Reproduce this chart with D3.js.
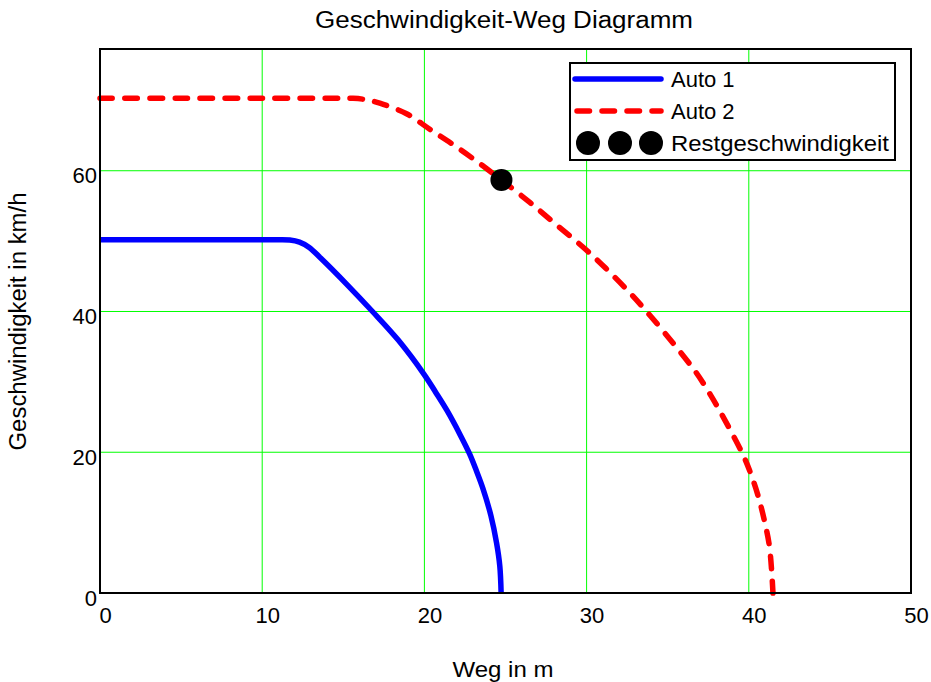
<!DOCTYPE html>
<html>
<head>
<meta charset="utf-8">
<script src="https://cdn.jsdelivr.net/npm/d3@7"></script>
<style>
    body { margin: 0; background: #fff; }
    text { font-family: "Liberation Sans", Arial, sans-serif; fill: #000; }
</style>
</head>
<body>
<div class="my_div"></div>
<script>
// Weg in m / Geschwindigkeit in km/h
var auto1Weg = [0, 4, 8, 11.0, 11.7, 12.3, 12.9, 13.6, 15.2, 16.8, 18.4, 20.0, 20.7, 21.4, 22.2, 22.8, 23.2, 23.6, 24.1, 24.45, 24.65, 24.73];
var auto1V   = [50.2, 50.2, 50.2, 50.2, 50.15, 49.85, 49.1, 47.6, 43.9, 40.0, 35.9, 31.0, 28.5, 25.9, 22.5, 19.7, 17.4, 14.9, 11.0, 7.1, 3.8, 0];

var auto2Weg = [0, 5, 10, 14.5, 15.6, 16.4, 17.25, 18.9, 20.33, 21.97, 23.6, 24.75, 26.5, 28.1, 30.0, 31.2, 32.65,
                33.7, 35.3, 36.76, 37.6, 38.4, 39.63, 40.05, 40.56, 40.97, 41.28, 41.49];
var auto2V   = [70.3, 70.3, 70.3, 70.3, 70.3, 70.1, 69.6, 68.1, 65.9, 63.4, 60.7, 58.7, 55.5, 52.4, 48.7, 46.1, 42.7,
                40.0, 35.6, 31.3, 28.3, 25.1, 19.7, 17.4, 13.9, 10.2, 6.5, 0];

// Restgeschwindigkeit von Auto 2 an der Stelle, an der Auto 1 steht
var restWeg = [24.75];
var restV   = [58.7];

var xTicks = [0, 10, 20, 30, 40, 50];
var yTicks = [0, 20, 40, 60];
var legendLabels = ["Auto 1", "Auto 2", "Restgeschwindigkeit"];

var xMax = 50,
    yMax = 77.3;

// Size and padding for the chart
var W = 931, H = 682;
var margin = { top: 49, right: 20, bottom: 89, left: 100 };
var width = 811,
    height = 544;

var xScale = d3.scaleLinear().domain([0, xMax]).range([0, width]);
var yScale = d3.scaleLinear().domain([0, yMax]).range([height, 0]);

var svg = d3.select(".my_div")
    .append("svg")
    .attr("width", W)
    .attr("height", H);

var g = svg.append("g")
    .attr("transform", "translate(" + margin.left + "," + margin.top + ")");

// Green grid lines
g.append("g")
    .selectAll("line")
    .data(xTicks.filter((d) => { return d > 0 && d < xMax; }))
    .enter().append("line")
    .attr("x1", (d) => { return xScale(d); })
    .attr("x2", (d) => { return xScale(d); })
    .attr("y1", 0)
    .attr("y2", height)
    .attr("stroke", "#00ff00")
    .attr("stroke-width", 1);

g.append("g")
    .selectAll("line")
    .data(yTicks.filter((d) => { return d > 0; }))
    .enter().append("line")
    .attr("y1", (d) => { return yScale(d); })
    .attr("y2", (d) => { return yScale(d); })
    .attr("x1", 0)
    .attr("x2", width)
    .attr("stroke", "#00ff00")
    .attr("stroke-width", 1);

// Axes, labels only
var xAxis = g.append("g")
    .attr("transform", "translate(0," + height + ")")
    .call(d3.axisBottom(xScale).tickValues(xTicks).tickSize(0).tickPadding(14));
xAxis.select(".domain").remove();
xAxis.selectAll("text")
    .attr("font-size", 22)
    .attr("dx", 5)
    .attr("font-family", null);

var yAxis = g.append("g")
    .call(d3.axisLeft(yScale).tickValues(yTicks).tickSize(0).tickPadding(3));
yAxis.select(".domain").remove();
yAxis.selectAll("text")
    .attr("font-size", 22)
    .attr("dy", 12)
    .attr("font-family", null);

// Centripetal Catmull-Rom keeps the steep ends smooth
var line = d3.line()
    .x((d) => { return xScale(d[0]); })
    .y((d) => { return yScale(d[1]); })
    .curve(d3.curveCatmullRom.alpha(0.5));

var auto1 = d3.zip(auto1Weg, auto1V);
var auto2 = d3.zip(auto2Weg, auto2V);

g.append("path")
    .datum(auto1)
    .attr("d", line)
    .attr("fill", "none")
    .attr("stroke", "#0000ff")
    .attr("stroke-width", 5.5);

g.append("path")
    .datum(auto2)
    .attr("d", line)
    .attr("fill", "none")
    .attr("stroke", "#ff0000")
    .attr("stroke-width", 5.5)
    .attr("stroke-linecap", "round")
    .attr("stroke-dasharray", "12.5,12.5");

// Plot frame
g.append("rect")
    .attr("width", width)
    .attr("height", height)
    .attr("fill", "none")
    .attr("stroke", "#000")
    .attr("stroke-width", 2);

g.selectAll("circle.rest")
    .data(d3.zip(restWeg, restV))
    .enter().append("circle")
    .attr("class", "rest")
    .attr("cx", (d) => { return xScale(d[0]); })
    .attr("cy", (d) => { return yScale(d[1]); })
    .attr("r", 11)
    .attr("fill", "#000");

// Legend
var legend = svg.append("g")
    .attr("transform", "translate(570,63)");

legend.append("rect")
    .attr("width", 325)
    .attr("height", 97)
    .attr("fill", "#fff")
    .attr("stroke", "#000")
    .attr("stroke-width", 2);

var rowY = (i) => { return 16 + i * 32; };

legend.append("line")
    .attr("x1", 5).attr("x2", 91)
    .attr("y1", rowY(0)).attr("y2", rowY(0))
    .attr("stroke", "#0000ff")
    .attr("stroke-width", 5.5)
    .attr("stroke-linecap", "round");

legend.append("line")
    .attr("x1", 7).attr("x2", 91)
    .attr("y1", rowY(1)).attr("y2", rowY(1))
    .attr("stroke", "#ff0000")
    .attr("stroke-width", 5.5)
    .attr("stroke-linecap", "round")
    .attr("stroke-dasharray", "12.5,12.5");

legend.selectAll("circle")
    .data([18, 50, 81])
    .enter().append("circle")
    .attr("cx", (d) => { return d; })
    .attr("cy", rowY(2))
    .attr("r", 12)
    .attr("fill", "#000");

legend.selectAll("text")
    .data(legendLabels)
    .enter().append("text")
    .attr("x", 101)
    .attr("y", (d, i) => { return rowY(i) + 8; })
    .attr("font-size", 22)
    .attr("textLength", (d, i) => { return i == 2 ? 218 : null; })
    .attr("lengthAdjust", "spacingAndGlyphs")
    .text((d) => { return d; });

// Titles
svg.append("text")
    .attr("x", 504)
    .attr("y", 28)
    .attr("text-anchor", "middle")
    .attr("font-size", 23)
    .attr("textLength", 378)
    .attr("lengthAdjust", "spacingAndGlyphs")
    .text("Geschwindigkeit-Weg Diagramm");

svg.append("text")
    .attr("x", 503)
    .attr("y", 677)
    .attr("text-anchor", "middle")
    .attr("font-size", 22)
    .attr("textLength", 101)
    .attr("lengthAdjust", "spacingAndGlyphs")
    .text("Weg in m");

svg.append("text")
    .attr("transform", "translate(26,321.5) rotate(-90)")
    .attr("text-anchor", "middle")
    .attr("font-size", 23)
    .attr("textLength", 258)
    .attr("lengthAdjust", "spacingAndGlyphs")
    .text("Geschwindigkeit in km/h");
</script>
</body>
</html>
